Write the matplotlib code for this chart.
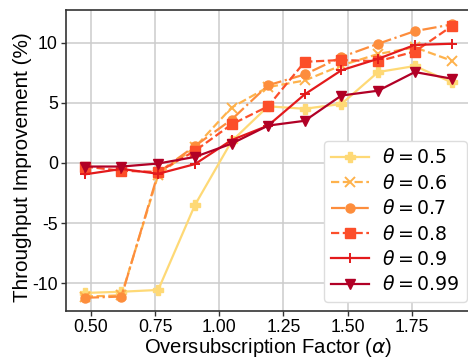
import matplotlib
matplotlib.use("Agg")
import matplotlib.pyplot as plt

plt.rcParams["font.family"] = ["Liberation Sans", "DejaVu Sans"]
plt.rcParams["axes.unicode_minus"] = False

alpha = [0.476, 0.619, 0.762, 0.905, 1.048, 1.190, 1.333, 1.476, 1.619, 1.762, 1.905]

theta_labels = ["0.5", "0.6", "0.7", "0.8", "0.9", "0.99"]

imp_05 = [-10.8, -10.7, -10.55, -3.5, 1.8, 4.7, 4.5, 4.9, 7.55, 8.05, 6.7]
imp_06 = [-11.1, -11.0, -1.0, 1.3, 4.6, 6.3, 6.85, 8.1, 9.05, 9.6, 8.5]
imp_07 = [-11.2, -11.1, -0.8, 1.4, 3.6, 6.45, 7.35, 8.8, 9.9, 10.95, 11.5]
imp_08 = [-0.3, -0.65, -0.75, 1.0, 3.2, 4.7, 8.4, 8.55, 8.45, 9.25, 11.35]
imp_09 = [-0.95, -0.5, -0.9, -0.1, 1.9, 3.1, 5.7, 7.7, 8.65, 9.8, 9.9]
imp_099 = [-0.3, -0.3, -0.05, 0.5, 1.6, 3.1, 3.5, 5.6, 6.0, 7.55, 7.0]

series = [imp_05, imp_06, imp_07, imp_08, imp_09, imp_099]
markers = ["P", "x", "o", "s", "+", "v"]
styles = ["-", "--", "-.", "--", "-", "-"]
# YlOrRd sequence, light to dark
colors = ["#fed976", "#feb24c", "#fd8d3c", "#fc4e2a", "#e31a1c", "#b10026"]

fig = plt.figure(figsize=(4.68, 3.6), dpi=100)
ax = fig.add_axes([0.1417, 0.1361, 0.8626, 0.836])

for vals, lab, mk, ls, c in zip(series, theta_labels, markers, styles, colors):
    ax.plot(alpha, vals, linestyle=ls, marker=mk, color=c, linewidth=1.6,
            markersize=6.5, markeredgewidth=1.4 if mk in ("x", "+") else 1.0,
            label=r"$\theta = " + lab + "$")

ax.set_xticks([0.5, 0.75, 1.0, 1.25, 1.5, 1.75])
ax.set_xticklabels(["0.50", "0.75", "1.00", "1.25", "1.50", "1.75"])
ax.set_yticks([-10, -5, 0, 5, 10])
ax.set_xlim(0.404, 1.977)
ax.set_ylim(-12.3, 12.7)

ax.grid(True, color="#cccccc", linewidth=1.1)
ax.set_axisbelow(True)
for sp in ax.spines.values():
    sp.set_color("#333333")
    sp.set_linewidth(1.2)
ax.tick_params(labelsize=12.7, length=3.5, width=1.0, color="#333333", pad=2.5)

ax.set_xlabel(r"Oversubscription Factor ($\alpha$)", fontsize=14.6)
ax.set_ylabel("Throughput Improvement (%)", fontsize=14.9)
ax.xaxis.set_label_coords(0.5, -0.083)
ax.yaxis.set_label_coords(-0.085, 0.478)

leg = ax.legend(loc="lower right", fontsize=13.6, handlelength=2.0,
                handletextpad=0.68, bbox_to_anchor=(0.9926, 0.03),
                borderaxespad=0.0, framealpha=1.0, edgecolor="#dddddd",
                labelspacing=0.34)

fig.savefig("out.png", dpi=100)
